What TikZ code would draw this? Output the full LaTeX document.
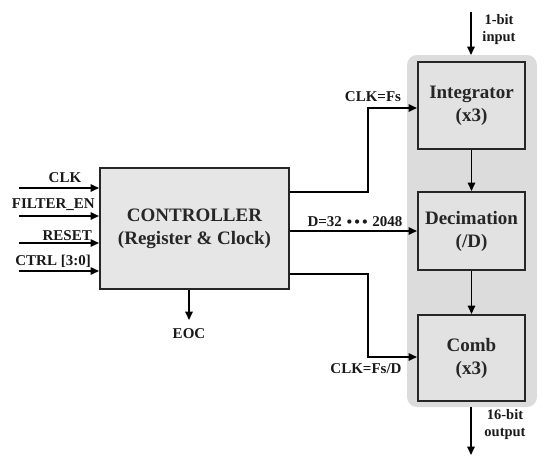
\documentclass[tikz,border=0pt]{standalone}
\usepackage{fontspec}
\setmainfont{Liberation Serif}
\usetikzlibrary{arrows.meta}
\definecolor{ctrlfill}{HTML}{E6E6E6}
\definecolor{panelfill}{HTML}{DCDCDC}
\definecolor{blockfill}{HTML}{E2E2E2}
\begin{document}
\begin{tikzpicture}[x=1pt,y=-1pt,
  box/.style={draw=black!85,line width=2pt,fill=blockfill,inner sep=0pt,font=\fontsize{19}{23}\selectfont\bfseries,align=center,text=black!85},
  lbl/.style={font=\fontsize{15}{17}\selectfont\bfseries,inner sep=0pt,text=black!90},
  arr/.style={line width=1.6pt,-{Triangle[length=8.5pt,width=7.5pt]}}]
\useasboundingbox (0,0) rectangle (550,459);
% panel
\node[fill=panelfill,rounded corners=10pt,minimum width=130pt,minimum height=352pt,inner sep=0pt] (panel) at (472,231) {};
% controller
\node[box,fill=ctrlfill,minimum width=189pt,minimum height=121pt,font=\fontsize{19}{23}\selectfont\bfseries] (ctrl) at (194.5,228.5) {CONTROLLER\\(Register \& Clock)};
% blocks
\node[box,minimum width=107pt,minimum height=87pt] (int) at (471.5,105.5) {Integrator\\(x3)};
\node[box,minimum width=107pt,minimum height=78pt] (dec) at (471.5,231) {Decimation\\(/D)};
\node[box,minimum width=107pt,minimum height=86pt] (comb) at (471.5,358) {Comb\\(x3)};
% inputs
\coordinate (i1) at (19,188);
\coordinate (i2) at (19,216);
\coordinate (i3) at (19,243);
\coordinate (i4) at (19,271);
\draw[arr] (i1) -- (i1 -| ctrl.west);
\draw[arr] (i2) -- (i2 -| ctrl.west);
\draw[arr] (i3) -- (i3 -| ctrl.west);
\draw[arr] (i4) -- (i4 -| ctrl.west);
\node[lbl] (lclk) at (65,178) {CLK};
\node[lbl,anchor=east] (lfen) at (95,205) {FILTER\_EN};
\node[lbl,anchor=east] (lrst) at (92,236) {RESET};
\node[lbl,anchor=east] (lctrl) at (91,261) {CTRL [3:0]};
% outputs of controller
\coordinate (o1) at (289,192);
\coordinate (o3) at (289,274);
\draw[arr] (o1 -| ctrl.east) -- (368,192) -- (368,108) -- (368,108 -| int.west);
\draw[arr] (ctrl.east |- 0,231) -- (dec.west);
\draw[arr] (o3 -| ctrl.east) -- (368,274) -- (368,357) -- (368,357 -| comb.west);
\node[lbl] (lfs) at (373,97) {CLK=Fs};
\node[lbl] (ld) at (355,222) {D=32 {\fontspec{DejaVu Sans}\fontsize{12}{12}\selectfont\raisebox{0.5pt}{•••}} 2048};
\node[lbl] (lfsd) at (366,369) {CLK=Fs/D};
% EOC
\coordinate (eoc) at (189,320);
\draw[arr] (ctrl.south -| eoc) -- (eoc);
\node[lbl] (leoc) at (189,334) {EOC};
% chain
\draw[arr] (int.south) -- (dec.north);
\draw[arr] (dec.south) -- (comb.north);
% io
\coordinate (inp) at (471,12);
\draw[arr] (inp) -- (471,55);
\node[lbl,align=center,font=\fontsize{14.5}{17}\selectfont\bfseries] (linp) at (499,30) {1-bit\\input};
\coordinate (outp) at (471,455);
\draw[arr] (471,407) -- (outp);
\node[lbl,align=center,font=\fontsize{14.5}{17}\selectfont\bfseries] (lout) at (505,425) {16-bit\\output};
\end{tikzpicture}
\end{document}
